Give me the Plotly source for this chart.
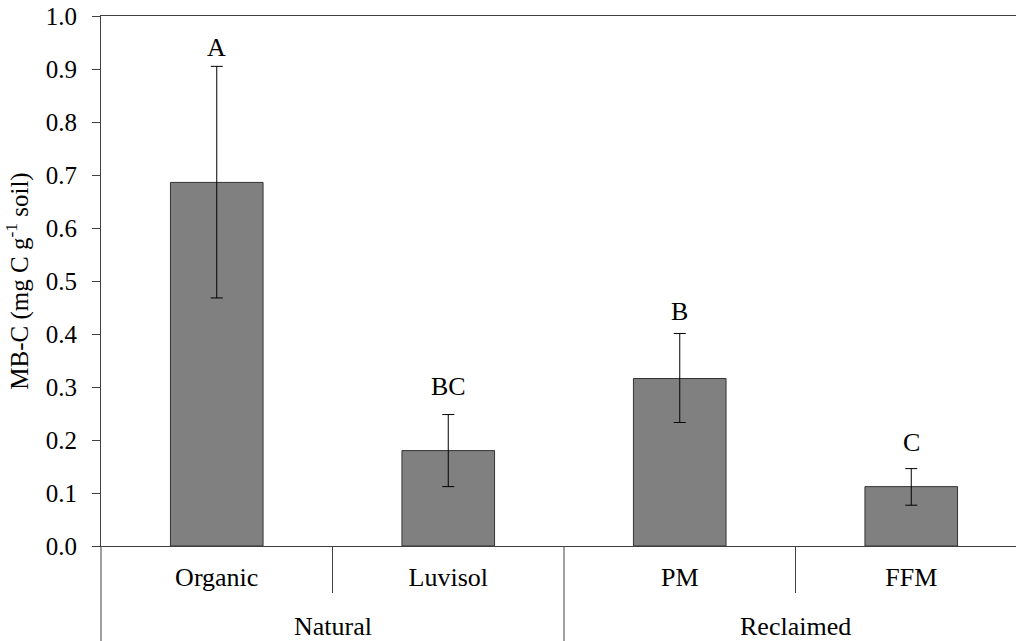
import plotly.graph_objects as go

groups = ["Natural", "Natural", "Reclaimed", "Reclaimed"]
categories = ["Organic", "Luvisol", "PM", "FFM"]
mbc = [0.686, 0.180, 0.316, 0.112]
err_plus = [0.219, 0.068, 0.085, 0.034]
err_minus = [0.218, 0.068, 0.083, 0.035]
letters = ["A", "BC", "B", "C"]
y_ticks = [0.0, 0.1, 0.2, 0.3, 0.4, 0.5, 0.6, 0.7, 0.8, 0.9, 1.0]

# pixel gap between error-bar cap and significance letter (style only)
letter_gap_px = [2, 12, 5, 10]

FONT = "Liberation Serif"
FS = 26
W, H = 1016, 641
L, T, B = 101, 16, 95
plot_h = H - T - B
cat_px = 231.5
x_right = -0.5 + (W - L) / cat_px

xs = list(range(len(categories)))

fig = go.Figure()
fig.add_trace(go.Bar(
    x=xs, y=mbc, width=0.40,
    marker=dict(color="#808080", line=dict(color="#333333", width=1)),
    error_y=dict(type="data", array=err_plus, arrayminus=err_minus,
                 color="#000000", thickness=1, width=6),
    showlegend=False, hoverinfo="skip",
))

annotations = []
for i, (v, e, lab, gap) in enumerate(zip(mbc, err_plus, letters, letter_gap_px)):
    annotations.append(dict(x=i, y=v + e, text=lab, showarrow=False,
                            xref="x", yref="y", yanchor="bottom", yshift=gap,
                            font=dict(family=FONT, size=FS, color="#000")))

seen = []
for g in groups:
    if g not in seen:
        seen.append(g)
for g in seen:
    idx = [i for i, gg in enumerate(groups) if gg == g]
    cx = (idx[0] + idx[-1]) / 2
    annotations.append(dict(x=cx, y=-80 / plot_h, text=g, showarrow=False,
                            xref="x", yref="paper", yanchor="middle",
                            font=dict(family=FONT, size=FS, color="#000")))

shapes = []
line_c = "#404040"
for i in range(len(categories) - 1):
    long = groups[i] != groups[i + 1]
    y1 = -B / plot_h if long else -47 / plot_h
    shapes.append(dict(type="line", xref="x", yref="paper", x0=i + 0.5, x1=i + 0.5,
                       y0=0, y1=y1, line=dict(color=line_c, width=1)))
shapes.append(dict(type="line", xref="paper", yref="paper", x0=0, x1=0,
                   y0=0, y1=-B / plot_h, line=dict(color=line_c, width=1)))

fig.update_layout(
    width=W, height=H,
    margin=dict(l=L, r=0, t=T, b=B, pad=0, autoexpand=False),
    plot_bgcolor="white", paper_bgcolor="white",
    font=dict(family=FONT, size=FS, color="#000"),
    annotations=annotations, shapes=shapes,
)
fig.update_xaxes(
    automargin=False,
    range=[-0.5, x_right], tickmode="array", tickvals=xs, ticktext=categories,
    showline=True, linecolor=line_c, linewidth=1, mirror=True,
    ticks="outside", ticklen=8, tickcolor="rgba(0,0,0,0)",
    showgrid=False, zeroline=False,
    tickfont=dict(family=FONT, size=FS, color="#000"),
)
fig.update_yaxes(
    automargin=False,
    range=[0, 1.0], tickmode="array", tickvals=y_ticks,
    ticktext=[f"{v:.1f}" for v in y_ticks],
    showline=True, linecolor=line_c, linewidth=1,
    ticks="outside", ticklen=8, tickcolor=line_c, ticklabelstandoff=10,
    showgrid=False, zeroline=False,
    tickfont=dict(family=FONT, size=25, color="#000"),
    title=dict(text="MB-C (mg C g<sup>-1</sup> soil)", standoff=10,
               font=dict(family=FONT, size=25, color="#000")),
)

fig.write_html(
    "out.html",
    config={"displayModeBar": False},
    post_script="document.body.style.margin='0px';document.body.style.overflow='hidden';",
)
